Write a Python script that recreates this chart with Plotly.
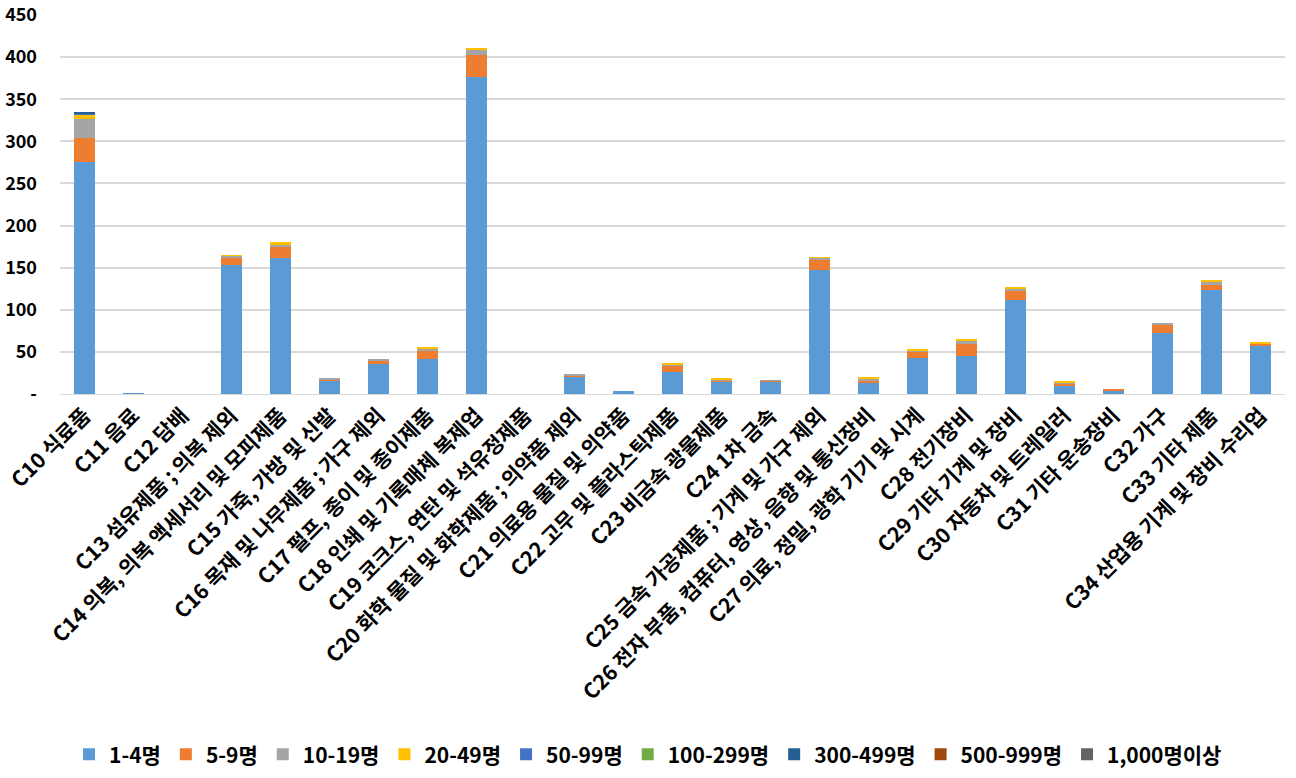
import plotly.graph_objects as go

categories = [
    "C10 식료품", "C11 음료", "C12 담배", "C13 섬유제품 ; 의복 제외",
    "C14 의복, 의복 액세서리 및 모피제품", "C15 가죽, 가방 및 신발",
    "C16 목재 및 나무제품 ; 가구 제외", "C17 펄프, 종이 및 종이제품",
    "C18 인쇄 및 기록매체 복제업", "C19 코크스, 연탄 및 석유정제품",
    "C20 화학 물질 및 화학제품 ; 의약품 제외", "C21 의료용 물질 및 의약품",
    "C22 고무 및 플라스틱제품", "C23 비금속 광물제품", "C24 1차 금속",
    "C25 금속 가공제품 ; 기계 및 가구 제외",
    "C26 전자 부품, 컴퓨터, 영상, 음향 및 통신장비",
    "C27 의료, 정밀, 광학 기기 및 시계", "C28 전기장비", "C29 기타 기계 및 장비",
    "C30 자동차 및 트레일러", "C31 기타 운송장비", "C32 가구", "C33 기타 제품",
    "C34 산업용 기계 및 장비 수리업",
]

s_1_4 = [276, 1, 0, 153, 161, 16.5, 36, 41, 376, 0, 21, 3.5, 26, 14, 15, 147, 14, 43, 45, 112, 10, 4.5, 72, 123, 58]
s_5_9 = [28, 0, 0, 9, 13, 1, 4, 11, 26, 0, 1, 0, 8, 2.5, 0.5, 12, 1, 8, 14, 10, 3, 1, 11, 7, 2]
s_10_19 = [22, 0, 0, 2, 3, 0.5, 1, 1.5, 7.5, 0, 1.5, 0, 1, 1, 1, 2.5, 3, 0.5, 5, 3, 1, 0, 1, 3, 0.5]
s_20_49 = [6, 0, 0, 1, 3, 0, 0, 1.5, 1.5, 0, 0, 0, 2, 1, 0, 1, 2, 1, 1, 2, 1, 0, 0, 1.5, 1]
s_50_99 = [1.5, 0, 0, 0, 0, 0, 0, 0, 0, 0, 0, 0, 0, 0, 0, 0, 0, 0, 0, 0, 0, 0, 0, 0, 0]
s_100_299 = [0] * 25
s_300_499 = [0.5, 0, 0, 0, 0, 0, 0, 0, 0, 0, 0, 0, 0, 0, 0, 0, 0, 0, 0, 0, 0, 0, 0, 0, 0]
s_500_999 = [0] * 25
s_1000 = [0] * 25

series_names = ["1-4명", "5-9명", "10-19명", "20-49명", "50-99명", "100-299명", "300-499명", "500-999명", "1,000명이상"]
series_values = [s_1_4, s_5_9, s_10_19, s_20_49, s_50_99, s_100_299, s_300_499, s_500_999, s_1000]
colors = ["#5B9BD5", "#ED7D31", "#A5A5A5", "#FFC000", "#4472C4", "#70AD47", "#255E91", "#9E480E", "#636363"]

y_ticks = [0, 50, 100, 150, 200, 250, 300, 350, 400, 450]
y_tick_text = ["-", "50", "100", "150", "200", "250", "300", "350", "400", "450"]

FONT = "Noto Sans CJK KR"

fig = go.Figure()
for name, vals, col in zip(series_names, series_values, colors):
    fig.add_trace(go.Bar(x=categories, y=vals, name=name, marker=dict(color=col, line=dict(width=0))))

fig.update_layout(
    barmode="stack",
    bargap=0.59,
    width=1296, height=778,
    margin=dict(l=60, r=11, t=15, b=384),
    paper_bgcolor="white", plot_bgcolor="white",
    font=dict(family=FONT, size=18, color="black"),
    legend=dict(
        orientation="h", x=0.5, xref="container", xanchor="center",
        y=0.03, yref="container", yanchor="middle",
        font=dict(family=FONT, size=21, color="black", weight="bold"),
        itemwidth=30, traceorder="normal",
    ),
    xaxis=dict(
        tickangle=-45, automargin=False, showgrid=False,
        tickfont=dict(family=FONT, size=21, color="black", weight="bold"),
        showline=True, linecolor="#D9D9D9", linewidth=1, ticks="",
    ),
    yaxis=dict(
        range=[0, 450], tickvals=y_ticks, ticktext=y_tick_text, automargin=False,
        showgrid=True, gridcolor="#D9D9D9", gridwidth=1.5, zeroline=False,
        tickfont=dict(family=FONT, size=18, color="black", weight="bold"),
        ticks="", ticklabelstandoff=22,
    ),
)

fig.write_html("out.html", config={"displayModeBar": False},
               post_script="document.body.style.margin='0px';")
